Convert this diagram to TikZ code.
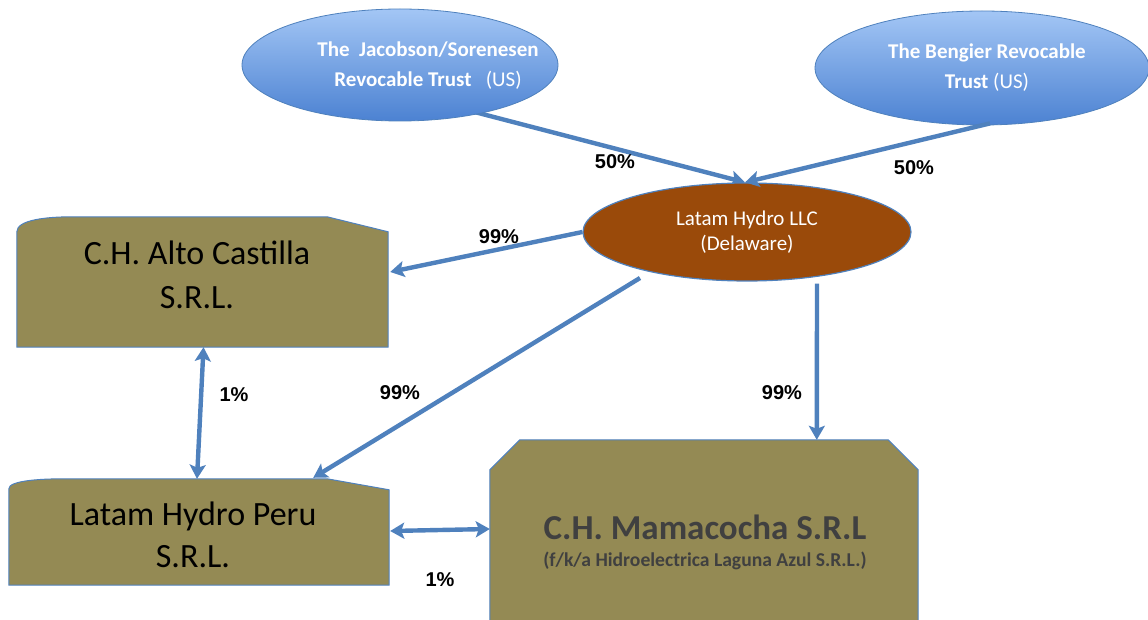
\documentclass[tikz,border=0pt]{standalone}
\usepackage{fontspec}
\setmainfont{Carlito}
\newfontfamily\arialfont{Liberation Sans}
\usetikzlibrary{shapes.geometric,arrows.meta,calc}
\pgfdeclarelayer{bg}
\pgfsetlayers{bg,main}
\definecolor{olivebox}{HTML}{948A54}
\definecolor{conn}{HTML}{4F81BD}
\definecolor{llcbrown}{HTML}{9A4A0A}
\definecolor{bluetop}{HTML}{A3C6F5}
\definecolor{bluebot}{HTML}{4C82D2}
\definecolor{darktext}{HTML}{404040}
\tikzset{
  trust/.style={ellipse, draw=conn, line width=0.8pt, top color=bluetop, bottom color=bluebot, inner sep=0pt},
  trusttext/.style={text=white, font=\fontsize{21}{30}\selectfont\bfseries, align=center, inner sep=0pt},
  llcnode/.style={ellipse, draw=conn, line width=1.2pt, fill=llcbrown, inner sep=0pt},
  llctext/.style={text=white, font=\fontsize{21}{25}\selectfont, align=center, inner sep=0pt},
  boxarea/.style={rectangle, inner sep=0pt, align=center},
  boxfill/.style={fill=olivebox, draw=conn, line width=1pt},
  boxtext/.style={font=\fontsize{34}{44}\selectfont, text=black, align=center, inner sep=0pt},
  tip/.tip={Stealth[length=14pt,width=16pt,inset=3pt]},
  conn/.style={draw=conn, line width=4.4pt, -tip},
  dconn/.style={draw=conn, line width=4.4pt, tip-tip},
  pct/.style={font=\arialfont\fontsize{20}{24}\selectfont\bfseries, text=black}
}
\begin{document}
\begin{tikzpicture}[x=1pt,y=-1pt]
\useasboundingbox (0,0) rectangle (1148,620);
\begin{pgfonlayer}{bg}
\fill[white] (0,0) rectangle (1148,620);
\end{pgfonlayer}

% trusts
\node[trust, minimum width=316pt, minimum height=112pt] (jac) at (400,65) {};
\node[trusttext] (jact) at (428,66) {The\ \ Jacobson/Sorenesen\\Revocable Trust\ \ \ \textmd{(US)}};
\node[trust, minimum width=334pt, minimum height=114pt] (ben) at (982,68) {};
\node[trusttext] (bent) at (987,68) {The Bengier Revocable\\Trust \textmd{(US)}};

% LLC
\node[llcnode, minimum width=328pt, minimum height=98pt] (llc) at (747,232) {};
\node[llctext] (llct) at (747,232) {Latam Hydro LLC\\(Delaware)};

% Alto Castilla box
\node[boxarea, minimum width=371pt, minimum height=130pt] (alto) at (202.5,282) {};
\path[boxfill] (alto.south west) -- ($(alto.north west)+(0,15)$)
  .. controls ($(alto.north west)+(0,3)$) and ($(alto.north west)+(30,0)$) .. ($(alto.north west)+(55,0)$)
  -- ($(alto.north east)+(-61,0)$) -- ($(alto.north east)+(0,15)$) -- (alto.south east) -- cycle;
\node[boxtext] (altot) at (197,275) {C.H. Alto Castilla\\S.R.L.};

% Latam Hydro Peru box
\node[boxarea, minimum width=380pt, minimum height=106pt] (peru) at (199,532) {};
\path[boxfill] (peru.south west) -- ($(peru.north west)+(0,10)$)
  .. controls ($(peru.north west)+(0,2)$) and ($(peru.north west)+(30,0)$) .. ($(peru.north west)+(55,0)$)
  -- ($(peru.north east)+(-62,0)$) -- ($(peru.north east)+(0,11)$) -- (peru.south east) -- cycle;
\node[boxtext, font=\fontsize{34}{42}\selectfont] (perut) at (193,535) {Latam Hydro Peru\\S.R.L.};

% Mamacocha box
\node[boxarea, minimum width=428pt, minimum height=190pt] (mama) at (704,535) {};
\path[boxfill] (mama.south west) -- ($(mama.north west)+(0,30)$) -- ($(mama.north west)+(30,0)$)
  -- ($(mama.north east)+(-30,0)$) -- ($(mama.north east)+(0,30)$) -- (mama.south east);
\node[font=\fontsize{35}{40}\selectfont\bfseries, text=darktext] (mamat) at (705,527) {C.H. Mamacocha S.R.L};
\node[font=\fontsize{19.6}{22}\selectfont\bfseries, text=darktext] (mamas) at (705,561) {(f/k/a Hidroelectrica Laguna Azul S.R.L.)};

% connectors
\coordinate (llctop) at ($(llc.north)+(-2,0)$);
\begin{pgfonlayer}{bg}
\draw[conn] ($(jac.center)+(40,38)$) -- (llctop);
\end{pgfonlayer}
\draw[conn] ($(ben.south)+(8,-2)$) -- (llctop);
\draw[conn] (llc.west) -- ($(alto.east)+(2,-10)$);
\draw[conn] ($(llc.center)+(-107,46)$) -- ($(peru.north east)+(-76,-1)$);
\draw[conn] ($(llc.south)+(70,2)$) -- ($(mama.north west)+(327,0)$);
\draw[dconn] ($(alto.south)+(1,0)$) -- ($(peru.north)+(-2,0)$);
\draw[dconn] ($(peru.east)+(1,-1)$) -- ($(mama.west)+(0,-6)$);

% labels
\node[pct] (l1) at (615,162) {50\%};
\node[pct] (l2) at (914,168) {50\%};
\node[pct] (l3) at (499,237) {99\%};
\node[pct] (l4) at (400,393) {99\%};
\node[pct] (l5) at (782,393) {99\%};
\node[pct] (l6) at (234,395) {1\%};
\node[pct] (l7) at (440,580) {1\%};
\end{tikzpicture}
\end{document}
